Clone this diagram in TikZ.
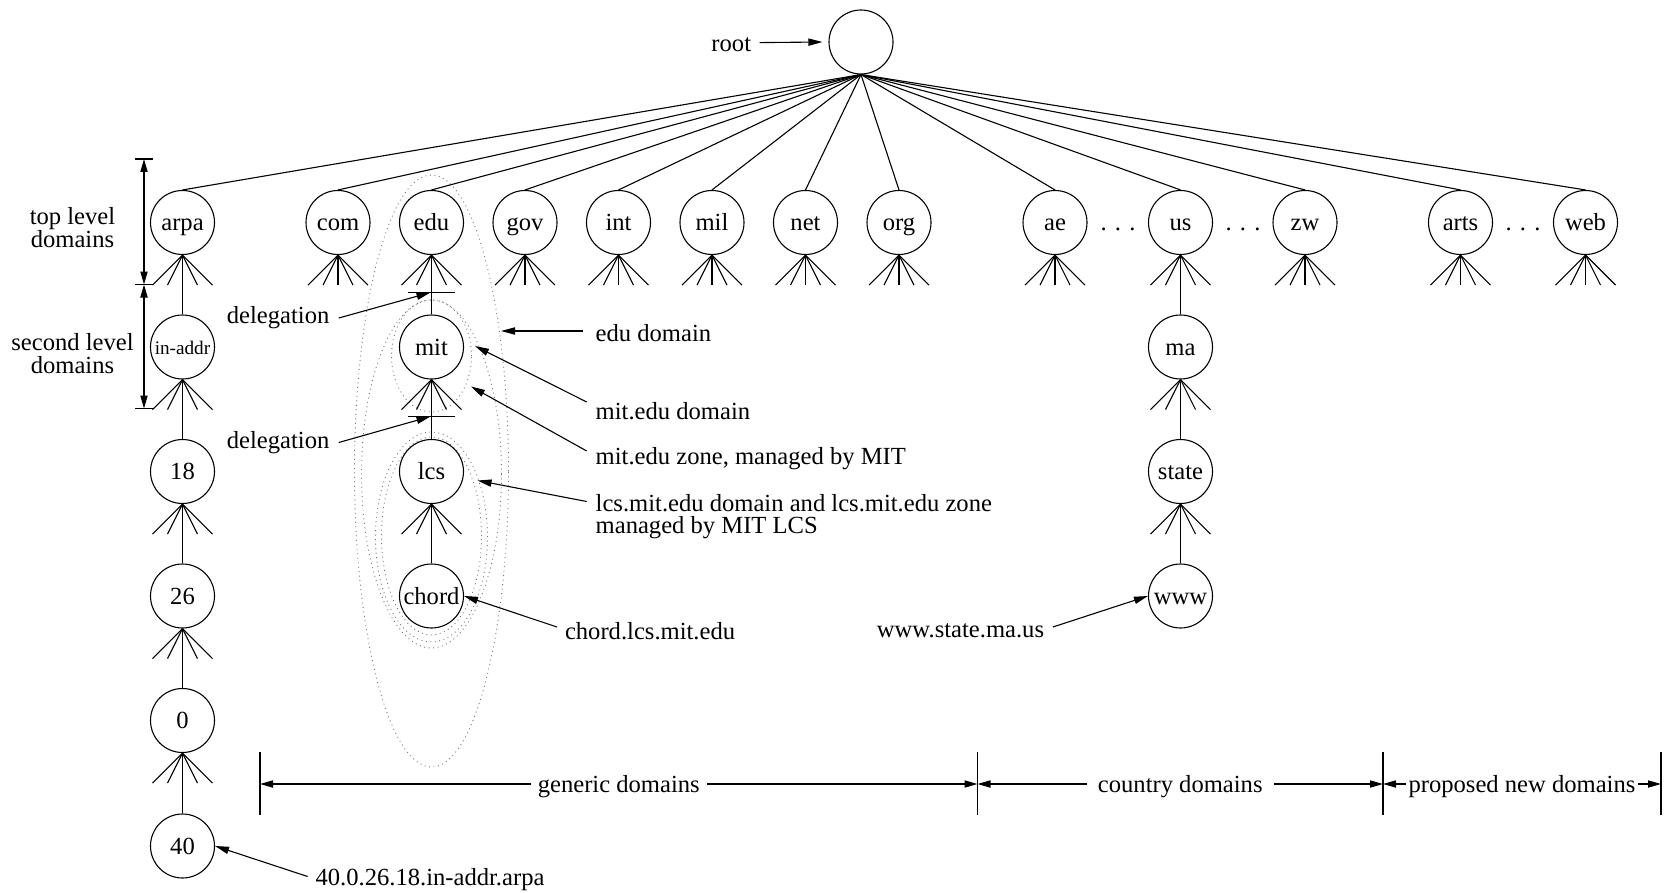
\documentclass[tikz,border=0pt]{standalone}
\usepackage{fontspec}
\setmainfont{Liberation Serif}
\usetikzlibrary{arrows.meta}
% four splayed stubs under a domain node; the leaf version adds the middle one
\newcommand{\fanout}[1]{\foreach \dx in {-30,-15,15,30}{\draw[ln] (#1.south) -- ++(\dx,30);}}
\newcommand{\fanleaf}[1]{\fanout{#1}\draw[ln] (#1.south) -- ++(0,30);}
\begin{document}
\begin{tikzpicture}[x=0.5pt,y=-0.5pt,
  txt/.style={font=\fontsize{12.3pt}{14pt}\selectfont},
  every node/.style={txt},
  dom/.style={circle,draw,line width=0.55pt,minimum size=32pt,inner sep=0pt,text height=8pt,text depth=0pt},
  ln/.style={line width=0.55pt},
  arr/.style={ln,-{Triangle[length=7pt,width=3.6pt]}},
  dim/.style={ln,{Triangle[length=6.5pt,width=3.6pt]}-{Triangle[length=6.5pt,width=3.6pt]}},
  zone/.style={draw=black!55,line width=0.45pt,dash pattern=on 0.45pt off 1.8pt},
  lbl/.style={inner sep=0pt},
  cut/.style={fill=white,inner ysep=1pt,yshift=-1.2pt},
]
\useasboundingbox (0,0) rectangle (1664,893);

% domain and zone boundaries
\draw[zone] (431.5,471) ellipse [x radius=38.5pt, y radius=148pt];
\draw[zone] (431.5,474) ellipse [x radius=35pt, y radius=87pt];
\draw[zone] (431.5,356) ellipse [x radius=20pt, y radius=28pt];
\draw[zone] (431.5,537) ellipse [x radius=28pt, y radius=52.5pt];
\draw[zone] (431.5,536) ellipse [x radius=25pt, y radius=49.5pt];

% name space tree
\node[dom] (root) at (861,42) {};
\foreach \n/\x in {arpa/182.5, com/338, edu/431.5, gov/525, int/618.5, mil/712, net/805.5, org/899, ae/1055, us/1180.5, zw/1305, arts/1460.5, web/1585.5}
  \node[dom] (\n) at (\x,222.5) {\n};
\node[dom,font=\fontsize{9.6pt}{11pt}\selectfont,text height=7pt] (inaddr) at (182.5,347) {in-addr};
\node[dom] (n18) at (182.5,471.5) {18};
\node[dom] (n26) at (182.5,596) {26};
\node[dom] (n0) at (182.5,720.5) {0};
\node[dom] (n40) at (182.5,846) {40};
\node[dom] (mit) at (431.5,347) {mit};
\node[dom] (lcs) at (431.5,471.5) {lcs};
\node[dom] (chord) at (431.5,596) {chord};
\node[dom] (ma) at (1180.5,347) {ma};
\node[dom] (state) at (1180.5,471.5) {state};
\node[dom] (www) at (1180.5,596) {www};

\foreach \n in {arpa,com,edu,gov,int,mil,net,org,ae,us,zw,arts,web}
  \draw[ln] (root.south) -- (\n.north);
\foreach \a/\b in {arpa/inaddr,inaddr/n18,n18/n26,n26/n0,n0/n40,edu/mit,mit/lcs,lcs/chord,us/ma,ma/state,state/www}
  \draw[ln] (\a.south) -- (\b.north);
\foreach \n in {arpa,inaddr,n18,n26,n0,edu,mit,lcs,us,ma,state} {\fanout{\n}}
\foreach \n in {com,gov,int,mil,net,org,ae,zw,arts,web} {\fanleaf{\n}}

\node[anchor=base] (dots1) at (1118,231) {. . .};
\node[anchor=base] (dots2) at (1243,231) {. . .};
\node[anchor=base] (dots3) at (1523,231) {. . .};

% delegation points
\coordinate (dg1) at (430.5,292.5);
\coordinate (dg2) at (430.5,416.5);
\draw[ln] (dg1) ++(-22.5,0) -- ++(47,0);
\draw[ln] (dg2) ++(-22.5,0) -- ++(47,0);
\node[lbl,anchor=west] (dl1) at (226.5,318) {delegation};
\node[lbl,anchor=west] (dl2) at (226.5,442.5) {delegation};
\draw[arr] ([xshift=4.5pt]dl1.east) -- (dg1);
\draw[arr] ([xshift=4.5pt]dl2.east) -- (dg2);

% level markers
\node[align=center,font=\fontsize{12.3pt}{11.7pt}\selectfont] (tld) at (72.5,227.5) {top level\\domains};
\node[align=center,font=\fontsize{12.3pt}{11.7pt}\selectfont] (sld) at (72.5,353.5) {second level\\domains};
\coordinate (v0) at (144,159);
\coordinate (v1) at (144,284.5);
\coordinate (v2) at (144,408.5);
\foreach \c in {v0,v1,v2} \draw[ln] (\c) ++(-9,0) -- ++(17.5,0);
\draw[dim] (v0) -- (v1);
\draw[dim] (v1) -- (v2);

% labels
\node[lbl,anchor=east] (rootl) at (751.5,45) {root};
\draw[arr] ([xshift=4pt,yshift=1.2pt]rootl.east) -- ([xshift=-3pt]root.west);

\coordinate (tEdu) at (501,331);
\coordinate (tMitD) at (475,346);
\coordinate (tMitZ) at (471,386.5);
\coordinate (tLcs) at (477.5,480.5);
\node[lbl,anchor=west] (edul) at (595.3,333) {edu domain};
\node[lbl,anchor=west] (mitdl) at (595.3,411) {mit.edu domain};
\node[lbl,anchor=west] (mitzl) at (595.3,459) {mit.edu zone, managed by MIT};
\node[lbl,anchor=west,align=left,font=\fontsize{12.3pt}{10.8pt}\selectfont] (lcsl) at (595.3,516.5) {lcs.mit.edu domain and lcs.mit.edu zone\\managed by MIT LCS};
\node[lbl,anchor=west] (chordl) at (564.6,631) {chord.lcs.mit.edu};
\node[lbl,anchor=west] (wwwl) at (876.5,631) {www.state.ma.us};
\node[lbl,anchor=west] (revl) at (315.2,879.5) {40.0.26.18.in-addr.arpa};

\draw[arr] ([xshift=-6.3pt,yshift=1pt]edul.west) -- (tEdu);
\draw[arr] ([xshift=-4.3pt,yshift=4.5pt]mitdl.west) -- (tMitD);
\draw[arr] ([xshift=-4.3pt,yshift=4pt]mitzl.west) -- (tMitZ);
\draw[arr] ([xshift=-4.3pt,yshift=7.5pt]lcsl.west) -- (tLcs);
\draw[arr] ([xshift=-3.8pt,yshift=2pt]chordl.west) -- (chord.east);
\draw[arr] ([xshift=4.2pt,yshift=2pt]wwwl.east) -- (www.west);
\draw[arr] ([xshift=-3.8pt,yshift=1.5pt]revl.west) -- (n40.east);

% domain groups along the bottom
\coordinate (b0) at (260,784);
\coordinate (b1) at (977.5,784);
\coordinate (b2) at (1383,784);
\coordinate (b3) at (1661,784);
\foreach \c in {b0,b1,b2,b3} \draw[ln] (\c) ++(0,-32) -- ++(0,63);
\draw[dim] (b0) -- (b1) node[midway,cut,inner xsep=3.5pt] {generic domains};
\draw[dim] (b1) -- (b2) node[midway,cut,inner xsep=5.5pt] {country domains};
\draw[dim] (b2) -- (b3) node[midway,cut,inner xsep=1.5pt] {proposed new domains};
\end{tikzpicture}
\end{document}
